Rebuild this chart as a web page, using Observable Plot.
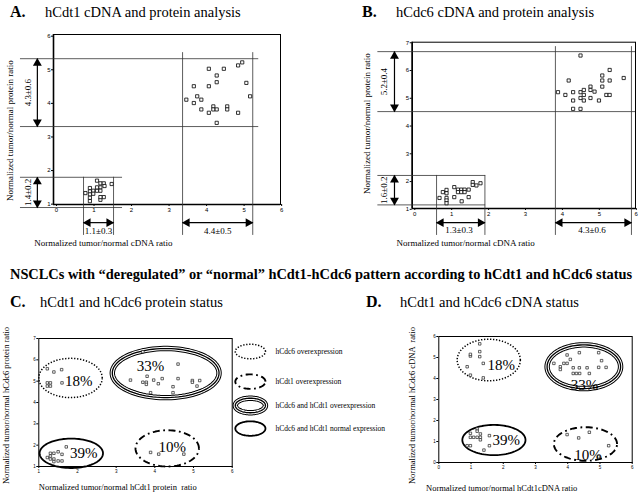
<!DOCTYPE html>
<html><head><meta charset="utf-8">
<script src="https://cdn.jsdelivr.net/npm/d3@7"></script>
<script src="https://cdn.jsdelivr.net/npm/@observablehq/plot@0.6"></script>
<style>
body{margin:0;background:#fff;}
#root{position:relative;width:640px;height:500px;overflow:hidden;font-family:"Liberation Serif",serif;background:#fff}
.t{position:absolute;white-space:nowrap;line-height:1;color:#000}
.b{font-weight:bold}
.pl{position:absolute}
</style></head><body><div id="root"></div>
<script>
// ---------- DATA ----------
// Panel A: hCdt1 cDNA (x) vs protein (y)
const aCdna = [3.46,3.66,3.66,3.75,3.86,3.86,4.06,4.06,4.06,4.18,4.18,4.27,4.27,4.27,4.27,4.46,4.55,4.55,4.84,4.84,4.95,5.06,5.16,
  0.77,0.89,0.89,0.89,0.89,0.89,0.98,1.08,1.08,1.17,1.26,1.28,1.17,1.08,1.17,1.17,1.26,1.17,1.47,0.98];
const aProt = [4.11,4.51,4.01,4.21,4.11,3.82,5.03,4.51,3.72,3.91,3.82,4.83,4.63,3.82,3.42,5.03,3.91,3.82,5.13,3.72,5.22,4.61,4.21,
  1.33,1.48,1.38,1.29,1.19,1.09,1.4,1.7,1.4,1.62,1.62,1.54,1.5,1.5,1.4,1.13,1.21,1.21,1.6,1.31];
const aHoriz = [{y:5.33,x1:-0.96,x2:5.39},{y:3.31,x1:-0.96,x2:5.39},{y:1.8,x1:-0.96,x2:1.76},{y:0.9,x1:-0.96,x2:1.76}];
const aVert = [{x:3.36,y1:5.51,y2:0.07},{x:5.23,y1:5.51,y2:0.07},{x:0.72,y1:1.8,y2:0.07},{x:1.52,y1:1.8,y2:0.07}];
const aArrows = [
  {x1:-0.51,y1:5.33,x2:-0.51,y2:3.31,label:"4.3±0.6",lx:-0.77,ly:4.32,rot:-90},
  {x1:-0.51,y1:1.8,x2:-0.51,y2:0.9,label:"1.4±0.2",lx:-0.77,ly:1.35,rot:-90},
  {x1:0.72,y1:0.45,x2:1.52,y2:0.45,label:"1.1±0.3",lx:1.12,ly:0.2,rot:0},
  {x1:3.36,y1:0.45,x2:5.23,y2:0.45,label:"4.4±0.5",lx:4.3,ly:0.2,rot:0}];

// Panel B: hCdc6 cDNA (x) vs protein (y)
const bCdna = [3.88,4.08,4.17,4.29,4.29,4.29,4.49,4.49,4.49,4.49,4.58,4.58,4.58,4.76,4.76,4.76,4.87,4.99,5.08,5.08,5.08,5.28,5.28,5.19,5.28,5.66,
  0.67,0.76,0.86,0.86,0.86,0.86,0.86,1.07,1.07,1.17,1.26,1.35,1.46,1.17,1.26,1.35,1.27,1.46,1.57,1.57,1.67,1.78];
const bProt = [5.22,5.12,5.64,5.22,4.92,4.62,6.54,5.22,5.01,4.62,5.3,5.12,4.92,5.42,5.3,5.01,5.24,4.92,5.42,5.64,5.82,6.02,5.64,5.12,5.12,5.73,
  1.41,1.62,1.7,1.58,1.41,1.32,1.22,1.44,1.8,1.71,1.71,1.71,1.71,1.62,1.62,1.62,1.29,1.44,1.98,1.88,1.86,1.94];
const bHoriz = [{y:6.68,x1:-1.0,x2:5.98},{y:4.52,x1:-1.0,x2:5.98},{y:2.22,x1:-1.0,x2:1.92},{y:1.16,x1:-1.0,x2:1.92}];
const bVert = [{x:3.81,y1:6.86,y2:0.06},{x:5.87,y1:6.86,y2:0.06},{x:0.59,y1:2.22,y2:0.06},{x:1.9,y1:2.22,y2:0.06}];
const bArrows = [
  {x1:-0.55,y1:6.68,x2:-0.55,y2:4.52,label:"5.2±0.4",lx:-0.84,ly:5.6,rot:-90},
  {x1:-0.55,y1:2.22,x2:-0.55,y2:1.16,label:"1.6±0.2",lx:-0.84,ly:1.69,rot:-90},
  {x1:0.59,y1:0.52,x2:1.9,y2:0.52,label:"1.3±0.3",lx:1.2,ly:0.24,rot:0},
  {x1:3.81,y1:0.52,x2:5.87,y2:0.52,label:"4.3±0.6",lx:4.8,ly:0.24,rot:0}];

// Panel C: hCdt1 protein (x) vs hCdc6 protein (y)
const cCdt1 = [1.22,1.39,1.59,1.22,1.3,1.22,1.3,1.6,
  3.69,3.37,3.69,3.78,3.78,3.8,3.97,4.09,4.19,3.89,4.47,4.47,4.6,4.6,4.97,4.97,5.16,5.09,
  1.22,1.3,1.3,1.39,1.5,1.6,1.71,1.39,1.39,1.5,1.6,1.3,
  3.89,4.1,4.75];
const cCdc6 = [5.58,5.43,5.54,4.92,4.92,4.77,4.77,4.92,
  6.38,5.05,4.95,4.95,4.85,5.23,5.05,4.88,5.12,4.46,4.74,4.46,5.8,5.12,5.03,4.95,5.03,4.77,
  1.42,1.62,1.49,1.62,1.69,1.57,1.92,1.35,1.23,1.26,1.26,1.35,
  1.66,1.58,1.58];
const cGroups = [
  {style:"dotted",cx:1.82,cy:5.15,rx:0.82,ry:0.92,pct:"18%",px:2.03,py:5.0},
  {style:"triple",cx:4.28,cy:5.38,rx:1.38,ry:1.15,pct:"33%",px:3.89,py:5.69},
  {style:"solid",cx:1.84,cy:1.62,rx:0.82,ry:0.69,pct:"39%",px:2.16,py:1.62},
  {style:"dashdot",cx:4.32,cy:1.85,rx:0.82,ry:0.85,pct:"10%",px:4.45,py:1.92}];
const legendItems = [
  {style:"dotted",label:"hCdc6 overexpression",y:6.39},
  {style:"dashdot",label:"hCdt1 overexpression",y:4.98},
  {style:"triple",label:"hCdc6 and hCdt1 overexpression",y:3.86},
  {style:"solid",label:"hCdc6 and hCdt1 normal expression",y:2.78}];

// Panel D: hCdt1 cDNA (x) vs hCdc6 cDNA (y)
const dCdt1 = [0.88,0.98,0.98,1.27,1.27,1.27,1.38,0.98,1.38,
  3.57,3.77,3.77,3.88,3.98,3.98,4.08,4.36,4.17,4.36,4.6,4.17,4.27,4.37,4.67,4.96,5.05,4.96,5.19,
  0.98,0.98,1.08,1.19,1.19,1.19,1.29,1.29,1.29,0.88,0.98,1.4,1.57,1.57,
  3.98,4.34,4.67,5.27,4.96];
const dCdc6 = [4.56,5.07,5.15,5.65,5.28,5.04,4.72,4.16,4.03,
  4.72,4.56,4.43,4.72,4.72,5.12,4.91,5.23,4.51,4.51,4.51,4.24,4.24,4.24,4.24,5.23,4.85,4.53,4.53,
  1.39,1.2,1.2,1.2,1.6,1.49,1.36,1.2,1.08,0.8,0.8,0.59,0.8,1.28,
  1.33,1.17,1.44,0.8,0.27];
const dGroups = [
  {style:"dotted",cx:1.55,cy:4.88,rx:0.98,ry:0.99,pct:"18%",px:1.94,py:4.64},
  {style:"triple",cx:4.5,cy:4.56,rx:1.14,ry:1.04,pct:"33%",px:4.52,py:3.68},
  {style:"solid",cx:1.71,cy:1.07,rx:0.98,ry:0.72,pct:"39%",px:2.09,py:1.07},
  {style:"dashdot",cx:4.55,cy:0.88,rx:0.98,ry:0.8,pct:"10%",px:4.63,py:0.37}];

const ticks06 = [0,1,2,3,4,5,6];
const ticks16 = [1,2,3,4,5,6];
const ticks17 = [1,2,3,4,5,6,7];

// ---------- HELPERS ----------
const SERIF = "Liberation Serif";
const root = document.getElementById("root");
function place(el, left, top){ el.classList.add("pl"); el.style.left = left+"px"; el.style.top = top+"px"; root.appendChild(el); }
function text(str, left, top, size, bold){ const d = document.createElement("div"); d.className = "t" + (bold ? " b" : ""); d.textContent = str; d.style.left = left+"px"; d.style.top = top+"px"; d.style.fontSize = size+"px"; root.appendChild(d); return d; }

function arrowMarks(arrows){
  const up = [], down = [], left = [], right = [];
  arrows.forEach(a => {
    if (a.x1 === a.x2) { const top = Math.max(a.y1,a.y2), bot = Math.min(a.y1,a.y2); up.push({x:a.x1,y:top}); down.push({x:a.x1,y:bot}); }
    else { const l = Math.min(a.x1,a.x2), r = Math.max(a.x1,a.x2); left.push({x:l,y:a.y1}); right.push({x:r,y:a.y1}); }
  });
  const tri = {x:"x", y:"y", symbol:"triangle", r:3.3, fill:"black", stroke:"none"};
  return [
    Plot.link(arrows, {x1:"x1", y1:"y1", x2:"x2", y2:"y2", stroke:"black", strokeWidth:1.2}),
    Plot.dot(up, {...tri, rotate:0, dy:4.5}),
    Plot.dot(down, {...tri, rotate:180, dy:-4.5}),
    Plot.dot(left, {...tri, rotate:-90, dx:4.5}),
    Plot.dot(right, {...tri, rotate:90, dx:-4.5}),
    Plot.text(arrows.filter(a=>a.rot!==0), {x:"lx", y:"ly", text:"label", rotate:-90, fontSize:9, fontFamily:SERIF}),
    Plot.text(arrows.filter(a=>a.rot===0), {x:"lx", y:"ly", text:"label", fontSize:9, fontFamily:SERIF})
  ];
}

function scatterPanel(o){
  return Plot.plot({
    width:o.width, height:o.height,
    marginLeft:o.ml, marginRight:o.mr, marginTop:o.mt, marginBottom:o.mb,
    style:{background:"transparent", fontFamily:"Liberation Sans", fontSize:"6px", overflow:"visible"},
    x:{domain:o.xd, ticks:ticks06, tickSize:2, tickPadding:1, tickFormat:"d", label:null},
    y:{domain:o.yd, ticks:o.yticks, tickSize:2, tickPadding:1, tickFormat:"d", label:null},
    marks:[
      Plot.frame({stroke:"black", strokeWidth:1}),
      Plot.ruleX([o.xd[0]], {stroke:"black", strokeWidth:1.6}),
      Plot.ruleY([o.yd[0]], {stroke:"black", strokeWidth:1.6}),
      Plot.ruleY(o.horiz, {y:"y", x1:"x1", x2:"x2", stroke:"#333", strokeWidth:0.8}),
      Plot.ruleX(o.vert, {x:"x", y1:"y1", y2:"y2", stroke:"#333", strokeWidth:0.8}),
      ...arrowMarks(o.arrows),
      Plot.dot(o.xs.map((v,i)=>({x:v, y:o.ys[i]})), {x:"x", y:"y", symbol:"square", r:1.8, stroke:"black", strokeWidth:0.8, fill:"white"}),
      Plot.text([o.ylab], {x:o.ylx, y:o.yly, text:d=>d, rotate:-90, fontSize:9, fontFamily:SERIF}),
      Plot.text([o.xlab], {x:o.xlx, y:o.xly, text:d=>d, fontSize:9, fontFamily:SERIF})
    ]
  });
}

function ellipsePoints(groups){
  const pts = [];
  groups.forEach((g, i) => {
    for (let k = 0; k <= 90; k++) {
      const t = k / 90 * 2 * Math.PI;
      pts.push({id:i, style:g.style, x:g.cx + g.rx*Math.cos(t), y:g.cy + g.ry*Math.sin(t)});
    }
  });
  return pts;
}
function ellipseMarks(groups){
  const pts = ellipsePoints(groups);
  const of = s => pts.filter(p => p.style === s);
  const base = {x:"x", y:"y", z:"id", curve:"linear", fill:"none"};
  return [
    Plot.line(of("dotted"), {...base, stroke:"black", strokeWidth:1.5, strokeLinecap:"butt", strokeDasharray:"1.3,1.7"}),
    Plot.line(of("dashdot"), {...base, stroke:"black", strokeWidth:1.9, strokeLinecap:"butt", strokeDasharray:"7,3.5,1.8,3.5"}),
    Plot.line(of("solid"), {...base, stroke:"black", strokeWidth:1.8}),
    Plot.line(of("triple"), {...base, stroke:"black", strokeWidth:5.4}),
    Plot.line(of("triple"), {...base, stroke:"white", strokeWidth:3.4}),
    Plot.line(of("triple"), {...base, stroke:"black", strokeWidth:1.3})
  ];
}

function statusPanel(o){
  const marks = [
    Plot.frame({stroke:"black", strokeWidth:1}),
    ...ellipseMarks(o.groups),
    Plot.dot(o.xs.map((v,i)=>({x:v, y:o.ys[i]})), {x:"x", y:"y", symbol:"square", r:1.4, stroke:"#222", strokeWidth:0.7, fill:"white"}),
    Plot.text(o.groups, {x:"px", y:"py", text:"pct", fontSize:15, fontFamily:SERIF}),
    Plot.text([o.ylab], {x:o.ylx, y:o.yly, text:d=>d, rotate:-90, fontSize:8.5, fontFamily:SERIF}),
    Plot.text([o.xlab], {x:o.xlx, y:o.xly, text:d=>d, fontSize:8.5, fontFamily:SERIF, textAnchor:o.xanchor})
  ];
  if (o.legend) {
    const lg = o.legend.map(d => ({style:d.style, cx:o.legX, cy:d.y, rx:0.39, ry:0.34}));
    marks.push(...ellipseMarks(lg));
    marks.push(Plot.text(o.legend, {x:o.legTX, y:"y", text:"label", textAnchor:"start", fontSize:7.5, fontFamily:SERIF}));
  }
  return Plot.plot({
    width:o.width, height:o.height,
    marginLeft:o.ml, marginRight:o.mr, marginTop:o.mt, marginBottom:o.mb,
    style:{background:"transparent", fontFamily:"Liberation Sans", fontSize:"4.5px", overflow:"visible"},
    x:{domain:o.xd, ticks:o.xticks, tickSize:2, tickPadding:1, tickFormat:"d", label:null},
    y:{domain:o.yd, ticks:o.yticks, tickSize:2, tickPadding:1, tickFormat:"d", label:null},
    marks
  });
}

// ---------- BUILD ----------
text("A.", 10, 4, 16, true);
text("hCdt1 cDNA and protein analysis", 45, 5, 14.5);
text("B.", 362, 4, 16, true);
text("hCdc6 cDNA and protein analysis", 396, 5, 14.5);
const main = text("NSCLCs with \u201cderegulated\u201d or \u201cnormal\u201d hCdt1-hCdc6 pattern according to hCdt1 and hCdc6 status", 10, 267, 14.4, true);
text("C.", 10, 294, 16, true);
text("hCdt1 and hCdc6 protein status", 40, 295, 14.5);
text("D.", 366, 294, 16, true);
text("hCdt1 and hCdc6 cDNA status", 400, 295, 14.5);
// stretch main title to the reference's full width
const mw = main.getBoundingClientRect().width;
if (mw > 0) main.style.letterSpacing = ((622 - mw) / main.textContent.length) + "px";

place(scatterPanel({
  width:290, height:225, ml:53, mr:10, mt:9, mb:46,
  xd:[-0.08,5.97], yd:[0.99,6.05], yticks:[1,2,3,4,5,6],
  horiz:aHoriz, vert:aVert, arrows:aArrows, xs:aCdna, ys:aProt,
  ylab:"Normalized tumor/normal protein ratio", ylx:-1.23, yly:3.19,
  xlab:"Normalized tumor/normal cDNA ratio", xlx:1.25, xly:-0.17
}), 0, 25);

place(scatterPanel({
  width:320, height:225, ml:91.7, mr:5, mt:16.7, mb:42,
  xd:[-0.07,5.98], yd:[1.03,7.02], yticks:[1,2,3,4,5,6,7],
  horiz:bHoriz, vert:bVert, arrows:bArrows, xs:bCdna, ys:bProt,
  ylab:"Normalized tumor/normal protein ratio", ylx:-1.28, yly:4.09,
  xlab:"Normalized tumor/normal cDNA ratio", xlx:1.38, xly:-0.23
}), 320, 25);

place(statusPanel({
  width:420, height:210, ml:38.3, mr:188.3, mt:48, mb:34,
  xd:[1,6], yd:[1,7], xticks:ticks16, yticks:ticks17,
  groups:cGroups, xs:cCdt1, ys:cCdc6,
  ylab:"Normalized tumor/normal hCdc6 protein ratio", ylx:0.17, yly:3.86,
  xlab:"Normalized tumor/normal hCdt1 protein  ratio", xlx:1, xly:0.02, xanchor:"start",
  legend:legendItems, legX:6.47, legTX:7.12
}), 0, 290);

place(statusPanel({
  width:245, height:210, ml:43.3, mr:8.3, mt:46, mb:38,
  xd:[0,6], yd:[0,6], xticks:ticks06, yticks:ticks06,
  groups:dGroups, xs:dCdt1, ys:dCdc6,
  ylab:"Normalized tumor/normal hCdc6 cDNA  ratio", ylx:-0.82, yly:2.71,
  xlab:"Normalized tumor/normal hCdt1cDNA ratio", xlx:1.95, xly:-1.24, xanchor:"middle"
}), 395, 290);
</script>
</body></html>
